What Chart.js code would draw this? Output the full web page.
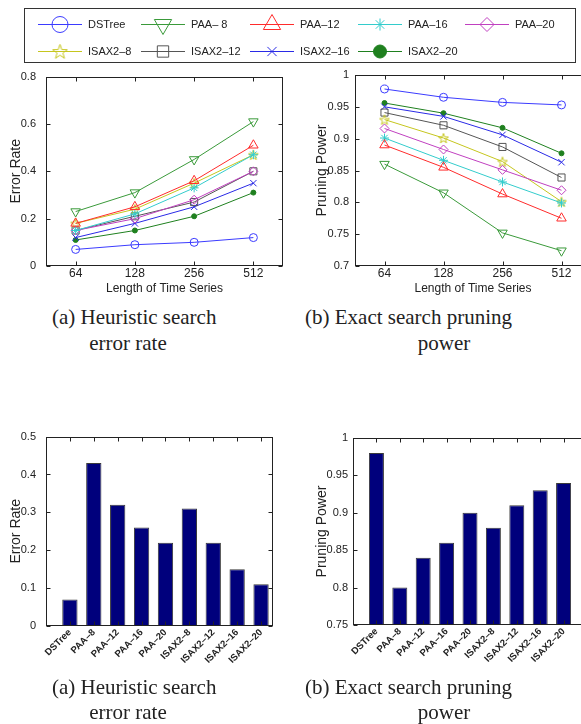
<!DOCTYPE html>
<html>
<head>
<meta charset="utf-8">
<script src="https://cdn.jsdelivr.net/npm/chart.js@4.4.1/dist/chart.umd.min.js"></script>
<style>
  html, body { margin: 0; padding: 0; background: #fff; width: 581px; height: 724px; overflow: hidden; }
  canvas { position: absolute; }
  .cap { position: absolute; font-family: "Liberation Serif", "Times New Roman", serif; font-size: 21px; line-height: 1; color: #222; white-space: nowrap; }
  .mid { width: 220px; text-align: center; }
</style>
</head>
<body>
<canvas id="legend" width="581" height="66" style="left:0;top:0"></canvas>
<canvas id="errLine" width="290" height="240" style="left:0;top:60px"></canvas>
<canvas id="pruneLine" width="310" height="240" style="left:290px;top:60px"></canvas>
<canvas id="errBar" width="290" height="270" style="left:0;top:420px"></canvas>
<canvas id="pruneBar" width="310" height="270" style="left:290px;top:420px"></canvas>

<div class="cap" style="left:52px;top:307px">(a) Heuristic search</div>
<div class="cap mid" style="left:18px;top:333px">error rate</div>
<div class="cap" style="left:305px;top:307px">(b) Exact search pruning</div>
<div class="cap mid" style="left:334px;top:333px">power</div>
<div class="cap" style="left:52px;top:677px">(a) Heuristic search</div>
<div class="cap mid" style="left:18px;top:702px">error rate</div>
<div class="cap" style="left:305px;top:677px">(b) Exact search pruning</div>
<div class="cap mid" style="left:334px;top:702px">power</div>

<script>
// ---- data ----
const lengths = ["64", "128", "256", "512"];
const methods = ["DSTree", "PAA–8", "PAA–12", "PAA–16", "PAA–20", "ISAX2–8", "ISAX2–12", "ISAX2–16", "ISAX2–20"];
const legendNames = ["DSTree", "PAA– 8", "PAA–12", "PAA–16", "PAA–20", "ISAX2–8", "ISAX2–12", "ISAX2–16", "ISAX2–20"];

// error rate per method (same order as methods), for 64/128/256/512
const errorRates = [
  [0.07, 0.09, 0.10, 0.12],
  [0.23, 0.31, 0.45, 0.61],
  [0.18, 0.25, 0.36, 0.51],
  [0.15, 0.22, 0.33, 0.47],
  [0.15, 0.20, 0.28, 0.40],
  [0.18, 0.24, 0.35, 0.47],
  [0.15, 0.21, 0.27, 0.40],
  [0.12, 0.18, 0.25, 0.35],
  [0.11, 0.15, 0.21, 0.31]
];

// pruning power per method
const pruningPowers = [
  [0.978, 0.965, 0.957, 0.953],
  [0.860, 0.815, 0.752, 0.724],
  [0.890, 0.855, 0.813, 0.775],
  [0.901, 0.866, 0.832, 0.799],
  [0.916, 0.883, 0.851, 0.819],
  [0.930, 0.901, 0.864, 0.801],
  [0.941, 0.921, 0.887, 0.839],
  [0.950, 0.935, 0.906, 0.863],
  [0.956, 0.940, 0.917, 0.877]
];

const barErrorRate = [0.07, 0.43, 0.32, 0.26, 0.22, 0.31, 0.22, 0.15, 0.11];
const barPruningPower = [0.98, 0.80, 0.84, 0.86, 0.90, 0.88, 0.91, 0.93, 0.94];

// ---- fonts ----
function hasFont(name) {
  const g = document.createElement("canvas").getContext("2d");
  g.font = "40px monospace";
  const a = g.measureText("Length of 0.85").width;
  g.font = '40px "' + name + '", monospace';
  return g.measureText("Length of 0.85").width !== a;
}
const narrow = hasFont("Liberation Sans Narrow");
const hFont = narrow ? { family: '"Liberation Sans Narrow", sans-serif', size: 14 }
                     : { family: '"Liberation Sans", Arial, sans-serif', size: 12 };
const tickFont = narrow ? { family: '"Liberation Sans Narrow", sans-serif', size: 13 }
                        : { family: '"Liberation Sans", Arial, sans-serif', size: 11 };
const vFont = { family: '"Liberation Sans", Arial, sans-serif', size: 14 };
const barTickFont = { family: '"Liberation Sans", Arial, sans-serif', size: 9.5, weight: "bold" };
const ink = "#222";

// ---- marker styles ----
function starImage(size, color) {
  const c = document.createElement("canvas");
  c.width = c.height = size;
  const g = c.getContext("2d");
  g.strokeStyle = color;
  g.lineWidth = 1;
  const R = size / 2 - 0.8, r = R * 0.4, cx = size / 2, cy = size / 2 + 0.6;
  g.beginPath();
  for (let k = 0; k < 10; k++) {
    const ang = -Math.PI / 2 + k * Math.PI / 5;
    const rr = k % 2 ? r : R;
    g.lineTo(cx + rr * Math.cos(ang), cy + rr * Math.sin(ang));
  }
  g.closePath();
  g.stroke();
  return c;
}

const styles = [
  { color: "#3b3bff", point: "circle", r: 4, lr: 8 },
  { color: "#3a9a3a", point: "triangle", r: 5.5, lr: 10, rot: 180 },
  { color: "#ff2b2b", point: "triangle", r: 5.5, lr: 10 },
  { color: "#33cccc", point: "star", r: 4.5, lr: 6 },
  { color: "#c040c0", point: "rectRot", r: 4.5, lr: 7 },
  { color: "#c6c61e", point: "pstar", r: 5, lr: 8 },
  { color: "#555555", point: "rect", r: 5, lr: 8 },
  { color: "#2a2ae6", point: "crossRot", r: 4.5, lr: 6.5 },
  { color: "#1f801f", point: "circle", r: 2.5, lr: 6.5, fill: true }
];
const starSmall = starImage(12, styles[5].color);
const starBig = starImage(17, styles[5].color);

// frame + inward tick marks, like the original plots
const boxPlugin = {
  id: "box",
  afterDraw(chart) {
    const { ctx, chartArea: a, scales } = chart;
    const L = Math.round(a.left) + 0.5, R = Math.round(a.right) - 0.5;
    const T = Math.round(a.top) + 0.5, B = Math.round(a.bottom) - 0.5;
    ctx.save();
    ctx.strokeStyle = ink;
    ctx.lineWidth = 1;
    ctx.strokeRect(L, T, R - L, B - T);
    ctx.beginPath();
    scales.x.ticks.forEach((t, i) => {
      if (t.label === "" || t.label == null) return;
      const px = Math.round(scales.x.getPixelForTick(i)) + 0.5;
      ctx.moveTo(px, B); ctx.lineTo(px, B - 4);
      ctx.moveTo(px, T); ctx.lineTo(px, T + 4);
    });
    scales.y.ticks.forEach((t, i) => {
      const py = Math.round(scales.y.getPixelForTick(i)) + 0.5;
      ctx.moveTo(L, py); ctx.lineTo(L + 4, py);
      ctx.moveTo(R, py); ctx.lineTo(R - 4, py);
    });
    ctx.stroke();
    ctx.restore();
  }
};

const fmt = v => String(+(+v).toFixed(2));

function lineChart(id, rows, yMin, yMax, yStep, yTitle, o) {
  return new Chart(document.getElementById(id), {
    type: "line",
    data: {
      labels: lengths,
      datasets: rows.map((vals, i) => {
        const s = styles[i];
        return {
          label: methods[i],
          data: vals,
          borderColor: s.color,
          borderWidth: 1,
          tension: 0,
          pointStyle: s.point === "pstar" ? starSmall : s.point,
          pointRadius: s.r,
          pointRotation: s.rot || 0,
          pointBorderColor: s.color,
          pointBorderWidth: 1,
          pointBackgroundColor: s.fill ? s.color : "rgba(0,0,0,0)"
        };
      })
    },
    options: {
      responsive: false,
      animation: false,
      events: [],
      layout: { padding: o.pad },
      plugins: { legend: { display: false }, tooltip: { enabled: false } },
      scales: {
        x: {
          type: "category",
          offset: true,
          grid: { display: false, drawTicks: false },
          border: { display: false },
          ticks: { font: hFont, color: ink, padding: 0, autoSkip: false, maxRotation: 0 },
          title: { display: true, text: "Length of Time Series", font: hFont, color: ink, padding: { top: 0, bottom: 4 } },
          afterFit: s => { s.height = o.xh; }
        },
        y: {
          min: yMin, max: yMax,
          grid: { display: false, drawTicks: false },
          border: { display: false },
          ticks: { stepSize: yStep, font: tickFont, color: ink, padding: o.ytp, callback: fmt },
          title: { display: true, text: yTitle, font: vFont, color: ink, padding: { top: o.ytt, bottom: 0 } },
          afterFit: s => { s.width = o.yw; }
        }
      }
    },
    plugins: [boxPlugin]
  });
}

function barChart(id, values, yMin, yMax, yStep, yTitle, xMax, o) {
  return new Chart(document.getElementById(id), {
    type: "bar",
    data: {
      datasets: [{
        data: values.map((v, i) => ({ x: i + 1, y: v })),
        backgroundColor: "#00007c",
        borderColor: "#3a3a3a",
        borderWidth: 1,
        barPercentage: 0.64,
        categoryPercentage: 1
      }]
    },
    options: {
      responsive: false,
      animation: false,
      events: [],
      layout: { padding: o.pad },
      plugins: { legend: { display: false }, tooltip: { enabled: false } },
      scales: {
        x: {
          type: "linear",
          min: 0, max: xMax,
          offset: false,
          grid: { display: false, drawTicks: false },
          border: { display: false },
          afterBuildTicks: s => { s.ticks = methods.map((m, i) => ({ value: i + 1 })); },
          ticks: {
            autoSkip: false, minRotation: 45, maxRotation: 45,
            font: barTickFont, color: ink, padding: 1,
            callback: v => methods[Math.round(v) - 1] || ""
          },
          afterFit: s => { s.height = o.xh; }
        },
        y: {
          min: yMin, max: yMax,
          grid: { display: false, drawTicks: false },
          border: { display: false },
          ticks: { stepSize: yStep, font: tickFont, color: ink, padding: o.ytp, callback: fmt },
          title: { display: true, text: yTitle, font: vFont, color: ink, padding: { top: o.ytt, bottom: 0 } },
          afterFit: s => { s.width = o.yw; }
        }
      }
    },
    plugins: [boxPlugin]
  });
}

lineChart("errLine", errorRates, 0, 0.8, 0.2, "Error Rate",
  { pad: { left: 0, top: 15, right: 7, bottom: 0 }, xh: 34, yw: 46, ytp: 10, ytt: 8 });
lineChart("pruneLine", pruningPowers, 0.7, 1, 0.05, "Pruning Power",
  { pad: { left: 0, top: 15, right: 9, bottom: 0 }, xh: 34, yw: 65, ytp: 6, ytt: 24 });
barChart("errBar", barErrorRate, 0, 0.5, 0.1, "Error Rate", 9.5,
  { pad: { left: 0, top: 16, right: 17, bottom: 0 }, xh: 64, yw: 46, ytp: 10, ytt: 8 });
barChart("pruneBar", barPruningPower, 0.75, 1, 0.05, "Pruning Power", 10,
  { pad: { left: 0, top: 18, right: 13, bottom: 0 }, xh: 65, yw: 63, ytp: 5, ytt: 24 });

// ---- legend box ----
(function drawLegend() {
  const g = document.getElementById("legend").getContext("2d");
  g.strokeStyle = "#333";
  g.lineWidth = 1;
  g.strokeRect(24.5, 8.5, 551, 54);
  const cols = [38, 141, 250, 358, 465];
  const rowsY = [24, 51];
  const helpers = Chart.helpers || {};
  legendNames.forEach((name, i) => {
    const s = styles[i];
    const row = i < 5 ? 0 : 1;
    const x0 = cols[row === 0 ? i : i - 5];
    const y = rowsY[row];
    g.strokeStyle = s.color;
    g.fillStyle = s.fill ? s.color : "rgba(0,0,0,0)";
    g.lineWidth = 1;
    g.beginPath();
    g.moveTo(x0, y + 0.5);
    g.lineTo(x0 + 44, y + 0.5);
    g.stroke();
    if (helpers.drawPoint) {
      helpers.drawPoint(g, {
        pointStyle: s.point === "pstar" ? starBig : s.point,
        radius: s.lr,
        rotation: s.rot || 0,
        borderWidth: 1
      }, x0 + 22, y + 0.5);
    }
    g.fillStyle = ink;
    g.font = narrow ? '13px "Liberation Sans Narrow", sans-serif' : '11px "Liberation Sans", Arial, sans-serif';
    g.textBaseline = "middle";
    g.fillText(name, x0 + 50, y + 1);
  });
})();
</script>
</body>
</html>
